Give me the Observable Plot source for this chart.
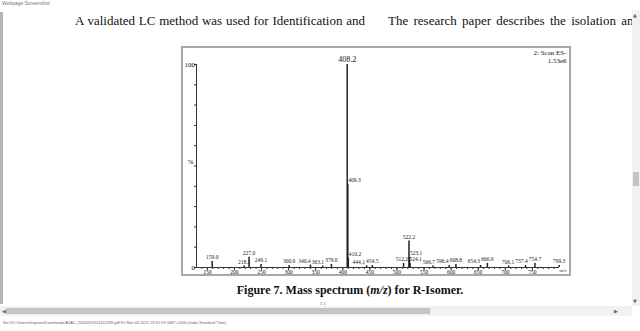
<!DOCTYPE html>
<html>
<head>
<meta charset="utf-8">
<script src="https://cdn.jsdelivr.net/npm/d3@7"></script>
<script src="https://cdn.jsdelivr.net/npm/@observablehq/plot@0.6"></script>
<style>
  html, body { margin: 0; padding: 0; background: #fff; }
  #page { position: relative; width: 640px; height: 331px; overflow: hidden; font-family: "Liberation Serif", "Times New Roman", serif; }
  .abs { position: absolute; white-space: nowrap; }
  #hdr { left: 2px; top: 0px; font: 5px "Liberation Sans", Arial, sans-serif; color: #777; }
  #leftbar { left: 0; top: 12px; width: 3px; height: 292px; background: #b5b5b5; }
  .para { top: 13px; font-size: 13px; line-height: 16px; color: #111; overflow: hidden; }
  #p1 { left: 75px; width: 290px; text-align: justify; text-align-last: justify; }
  #p2w { left: 388px; top: 13px; width: 244px; overflow: hidden; }
  #p2 { position: relative; width: 252px; text-align: justify; text-align-last: justify; font-size: 13px; line-height: 16px; color: #111; }
  #chart { left: 182px; top: 47px; }
  #chart svg { display: block; outline: 2px solid #a8a8a8; outline-offset: -1px; }
  #caption { left: 150px; width: 400px; top: 283px; text-align: center; font-weight: bold; font-size: 12px; line-height: 14px; color: #111; }
  #vscroll { left: 632px; top: 10px; width: 8px; height: 296px; background: #f1f1f1; }
  #vthumb { left: 633px; top: 172px; width: 6px; height: 14px; background: #c4c4c4; }
  #hscroll { left: 0; top: 306px; width: 632px; height: 10px; background: #f1f1f1; }
  #hthumb { left: 6px; top: 308px; width: 424px; height: 6px; background: #c4c4c4; }
  .arrow { font: 5px "DejaVu Sans", sans-serif; color: #666; }
  #footer { left: 3px; top: 320px; font: 4px "Liberation Sans", Arial, sans-serif; color: #666; }
</style>
</head>
<body>
<div id="page">
  <div class="abs" id="hdr">Webpage Screenshot</div>
  <div class="abs" id="leftbar"></div>
  <div class="abs para" id="p1">A validated LC method was used for Identification and</div>
  <div class="abs" id="p2w"><div id="p2">The research paper describes the isolation and</div></div>
  <div class="abs" id="chart"></div>
  <div class="abs" id="caption">Figure 7. Mass spectrum (<i>m/z</i>) for R-Isomer.</div>
  <div class="abs" id="vscroll"></div>
  <div class="abs" id="vthumb"></div>
  <div class="abs arrow" style="left:633px;top:12px;">▲</div>
  <div class="abs arrow" style="left:633px;top:298px;">▼</div>
  <div class="abs" id="hscroll"></div>
  <div class="abs" id="hthumb"></div>
  <div class="abs arrow" style="left:2px;top:308px;">◀</div>
  <div class="abs arrow" style="left:614px;top:308px;">▶</div>
  <div class="abs" style="left:320px;top:301px;font:4px sans-serif;color:#666;">1 1</div>
  <div class="abs" id="footer">file:///C:/Users/Inspiron/Downloads/AJAC_2013091314111298.pdf Fri Mar 06 2015 19:15:59 GMT+0530 (India Standard Time)</div>
</div>
<script>
// Peak m/z values and relative intensities (%)
const mz = [159.0, 218.1, 227.0, 249.1, 300.9, 340.4, 363.1, 379.0, 408.2, 409.3, 410.2, 444.1, 454.5, 512.2, 522.2, 523.1, 524.1, 566.7, 596.4, 608.8, 654.3, 666.9, 706.1, 737.4, 754.7, 799.3];
const intensity = [3, 0.8, 5, 1.5, 1, 1.2, 0.8, 1.5, 100, 41, 4.5, 0.8, 1, 2, 13, 5, 2, 0.8, 1, 1.5, 1, 2, 0.8, 1, 2, 1];
const xTicks = [150, 200, 250, 300, 350, 400, 450, 500, 550, 600, 650, 700, 750];
const xMinorTicks = d3.range(140, 800, 10);
const yTicks = d3.range(0, 101, 10);
const yLabels = [0, 100];
const scanInfo = "2: Scan ES-\n1.53e6";
const xDomain = [130, 800];

const W = 388, ML = 14, MR = 11, H = 228, MT = 17, MB = 8;
const pxPerUnit = (W - ML - MR) / (xDomain[1] - xDomain[0]);
const pxPerPct = (H - MT - MB) / 100;

const peaks = mz.map((m, i) => ({mz: m, intensity: intensity[i], label: m.toFixed(1)}));
const main = peaks.filter(d => d.intensity >= 90);
const minor = peaks.filter(d => d.intensity < 90);

// Simple label layout: labels next to a taller peak just before them start at the peak;
// others are centred, and overlapping labels at similar heights are nudged left.
const labelW = 13 / pxPerUnit; // label width in m/z units
minor.forEach(d => {
  d.anchorStart = peaks.some(p => p.mz < d.mz && d.mz - p.mz < 3 && p.intensity > d.intensity);
  d.lx = d.mz;
});
const placed = [];
[...minor].sort((a, b) => b.mz - a.mz).forEach(d => {
  const left = () => d.anchorStart ? d.lx : d.lx - labelW / 2;
  const right = () => d.anchorStart ? d.lx + labelW : d.lx + labelW / 2;
  for (const j of placed) {
    const vOverlap = Math.abs(j.intensity - d.intensity) * pxPerPct < 5.5;
    const jl = j.anchorStart ? j.lx : j.lx - labelW / 2;
    if (vOverlap && right() > jl - 0.5 / pxPerUnit && left() < jl + labelW) {
      d.lx -= right() - (jl - 0.5 / pxPerUnit);
    }
  }
  placed.push(d);
});
const serif = "Liberation Serif, Times New Roman, serif";

const chart = Plot.plot({
  width: W,
  height: H,
  marginLeft: ML,
  marginRight: MR,
  marginTop: MT,
  marginBottom: MB,
  style: {fontFamily: serif, background: "#fff", color: "#111"},
  x: {domain: xDomain, label: null},
  y: {domain: [0, 100], label: null},
  marks: [
    Plot.axisX({ticks: xMinorTicks, tickSize: 2, tickFormat: () => "", stroke: "#333"}),
    Plot.axisX({ticks: xTicks, tickSize: 3, tickPadding: 0, fontSize: 5.5, stroke: "#333"}),
    Plot.axisY({ticks: yTicks, tickSize: 2, tickFormat: () => "", stroke: "#333"}),
    Plot.axisY({ticks: yLabels, tickSize: 0, tickPadding: 1.5, fontSize: 7}),
    Plot.ruleY([0], {stroke: "#333", strokeWidth: 1}),
    Plot.ruleX([xDomain[0]], {y1: 0, y2: 100, stroke: "#333", strokeWidth: 1}),
    Plot.text(["%"], {x: xDomain[0], y: 52, dx: -3, textAnchor: "end", fontSize: 7}),
    Plot.ruleX(peaks, {x: "mz", y1: 0, y2: "intensity", stroke: "#222", strokeWidth: 1.5}),
    Plot.text(minor.filter(d => !d.anchorStart), {x: "lx", y: "intensity", text: "label", dy: -4, fontSize: 5.5, fill: "#222"}),
    Plot.text(minor.filter(d => d.anchorStart), {x: "lx", y: "intensity", text: "label", dy: -4, dx: 0.5, textAnchor: "start", fontSize: 5.5, fill: "#222"}),
    Plot.text(main, {x: "mz", y: "intensity", text: "label", dy: -5, fontSize: 8, fill: "#111"}),
    Plot.text([scanInfo], {frameAnchor: "top-right", dx: 7, dy: -15, lineAnchor: "top", fontSize: 7, lineHeight: 1.1}),
    Plot.text(["m/z"], {frameAnchor: "bottom-right", dx: 7, dy: 4, fontSize: 5, fontStyle: "italic"})
  ]
});
document.getElementById("chart").appendChild(chart);
</script>
</body>
</html>
